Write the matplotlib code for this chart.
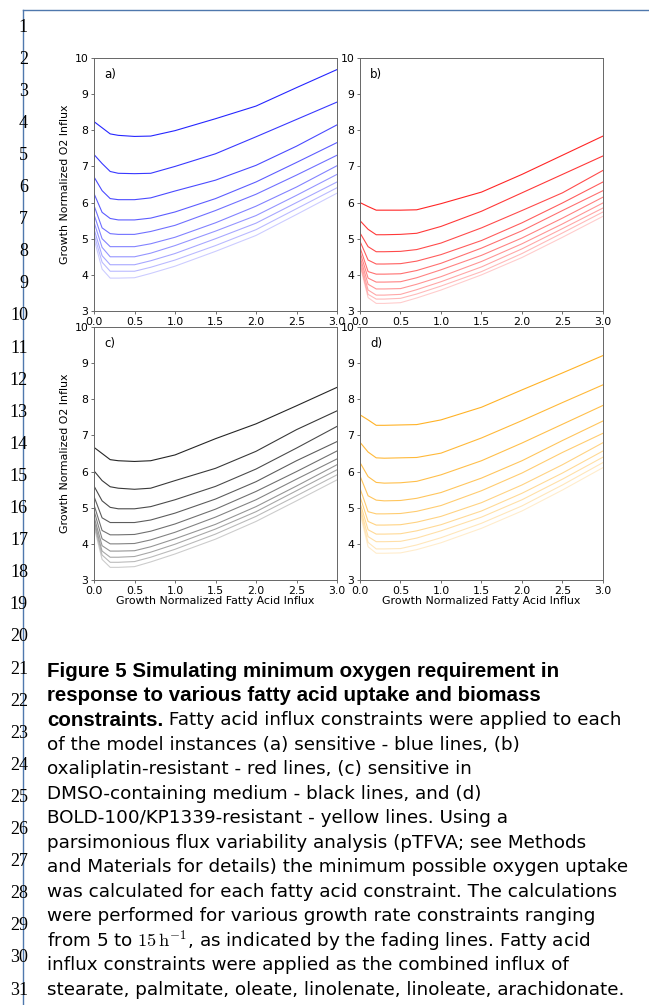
import numpy as np
import matplotlib
matplotlib.use("Agg")
import matplotlib.pyplot as plt
from matplotlib.lines import Line2D

x_influx = [0.0, 0.1, 0.2, 0.3, 0.5, 0.7, 1.0, 1.5, 2.0, 2.5, 3.0]

# growth normalized O2 influx, one row per growth rate constraint (top line first)
o2_sensitive = [
    [8.24, 8.07, 7.90, 7.86, 7.83, 7.84, 7.99, 8.32, 8.67, 9.18, 9.68],
    [7.33, 7.08, 6.86, 6.81, 6.80, 6.81, 7.00, 7.35, 7.82, 8.30, 8.78],
    [6.71, 6.33, 6.11, 6.08, 6.08, 6.13, 6.32, 6.62, 7.03, 7.56, 8.15],
    [6.25, 5.73, 5.56, 5.52, 5.52, 5.57, 5.74, 6.11, 6.57, 7.11, 7.66],
    [5.92, 5.30, 5.14, 5.12, 5.12, 5.20, 5.37, 5.78, 6.23, 6.76, 7.31],
    [5.67, 5.00, 4.78, 4.78, 4.78, 4.86, 5.04, 5.44, 5.90, 6.43, 7.02],
    [5.46, 4.76, 4.50, 4.50, 4.50, 4.60, 4.81, 5.21, 5.64, 6.20, 6.78],
    [5.27, 4.53, 4.28, 4.28, 4.28, 4.39, 4.59, 5.00, 5.43, 6.00, 6.57],
    [5.13, 4.35, 4.10, 4.10, 4.10, 4.21, 4.41, 4.81, 5.25, 5.83, 6.41],
    [5.00, 4.16, 3.91, 3.91, 3.92, 4.04, 4.24, 4.65, 5.09, 5.67, 6.26],
]
o2_oxali = [
    [6.00, 5.89, 5.79, 5.79, 5.79, 5.80, 5.97, 6.29, 6.78, 7.31, 7.84],
    [5.50, 5.26, 5.11, 5.11, 5.12, 5.15, 5.34, 5.76, 6.27, 6.78, 7.29],
    [5.16, 4.78, 4.64, 4.64, 4.65, 4.70, 4.88, 5.30, 5.78, 6.27, 6.89],
    [4.93, 4.41, 4.30, 4.30, 4.31, 4.38, 4.56, 4.95, 5.44, 5.99, 6.57],
    [4.76, 4.09, 4.02, 4.02, 4.03, 4.12, 4.32, 4.74, 5.22, 5.78, 6.33],
    [4.63, 3.91, 3.80, 3.80, 3.81, 3.92, 4.14, 4.54, 5.02, 5.57, 6.15],
    [4.51, 3.74, 3.61, 3.61, 3.62, 3.74, 3.95, 4.37, 4.86, 5.41, 5.99],
    [4.42, 3.58, 3.44, 3.44, 3.46, 3.59, 3.81, 4.22, 4.72, 5.28, 5.85],
    [4.32, 3.46, 3.33, 3.33, 3.35, 3.47, 3.69, 4.09, 4.59, 5.16, 5.74],
    [4.26, 3.37, 3.21, 3.21, 3.23, 3.36, 3.58, 4.00, 4.48, 5.04, 5.62],
]
o2_dmso = [
    [6.67, 6.50, 6.33, 6.30, 6.28, 6.30, 6.46, 6.91, 7.32, 7.82, 8.33],
    [6.02, 5.75, 5.58, 5.54, 5.51, 5.54, 5.75, 6.09, 6.56, 7.16, 7.68],
    [5.60, 5.19, 5.01, 4.97, 4.97, 5.03, 5.22, 5.59, 6.07, 6.65, 7.25],
    [5.31, 4.72, 4.59, 4.59, 4.59, 4.66, 4.85, 5.24, 5.72, 6.30, 6.83],
    [5.08, 4.37, 4.25, 4.25, 4.26, 4.35, 4.55, 4.96, 5.45, 6.00, 6.57],
    [4.92, 4.14, 4.00, 4.00, 4.01, 4.11, 4.32, 4.74, 5.22, 5.79, 6.35],
    [4.76, 3.95, 3.80, 3.80, 3.81, 3.92, 4.14, 4.54, 5.03, 5.60, 6.19],
    [4.66, 3.80, 3.63, 3.63, 3.65, 3.77, 3.99, 4.41, 4.89, 5.47, 6.05],
    [4.57, 3.69, 3.49, 3.49, 3.51, 3.63, 3.85, 4.27, 4.76, 5.33, 5.91],
    [4.48, 3.57, 3.35, 3.35, 3.37, 3.50, 3.72, 4.13, 4.62, 5.19, 5.77],
]
o2_bold = [
    [7.57, 7.43, 7.28, 7.28, 7.29, 7.30, 7.43, 7.78, 8.26, 8.73, 9.21],
    [6.81, 6.54, 6.38, 6.37, 6.38, 6.39, 6.51, 6.93, 7.41, 7.91, 8.40],
    [6.25, 5.86, 5.70, 5.68, 5.69, 5.73, 5.91, 6.30, 6.79, 7.31, 7.83],
    [5.88, 5.33, 5.21, 5.19, 5.20, 5.26, 5.42, 5.82, 6.30, 6.86, 7.40],
    [5.54, 4.89, 4.83, 4.83, 4.84, 4.90, 5.06, 5.47, 5.96, 6.53, 7.06],
    [5.31, 4.62, 4.52, 4.52, 4.53, 4.60, 4.76, 5.14, 5.63, 6.19, 6.80],
    [5.14, 4.39, 4.27, 4.27, 4.28, 4.36, 4.53, 4.91, 5.40, 5.96, 6.57],
    [5.03, 4.20, 4.06, 4.06, 4.07, 4.16, 4.36, 4.74, 5.22, 5.79, 6.40],
    [4.94, 4.04, 3.86, 3.86, 3.87, 3.97, 4.17, 4.57, 5.05, 5.63, 6.25],
    [4.85, 3.92, 3.74, 3.74, 3.75, 3.84, 4.03, 4.43, 4.91, 5.49, 6.11],
]

panel_tags = ["a)", "b)", "c)", "d)"]
panel_colors = ["blue", "red", "black", "orange"]
x_ticks = [0.0, 0.5, 1.0, 1.5, 2.0, 2.5, 3.0]
y_ticks = [3, 4, 5, 6, 7, 8, 9, 10]

caption = [
    [("Figure 5 Simulating minimum oxygen requirement in", "bold")],
    [("response to various fatty acid uptake and biomass", "bold")],
    [("constraints.", "bold"), (" Fatty acid influx constraints were applied to each", "normal")],
    [("of the model instances (a) sensitive - blue lines, (b)", "normal")],
    [("oxaliplatin-resistant - red lines, (c) sensitive in", "normal")],
    [("DMSO-containing medium - black lines, and (d)", "normal")],
    [("BOLD-100/KP1339-resistant - yellow lines. Using a", "normal")],
    [("parsimonious flux variability analysis (pTFVA; see Methods", "normal")],
    [("and Materials for details) the minimum possible oxygen uptake", "normal")],
    [("was calculated for each fatty acid constraint. The calculations", "normal")],
    [("were performed for various growth rate constraints ranging", "normal")],
    [(r"from 5 to $15\,\mathrm{h}^{-1}$, as indicated by the fading lines. Fatty acid", "normal")],
    [("influx constraints were applied as the combined influx of", "normal")],
    [("stearate, palmitate, oleate, linolenate, linoleate, arachidonate.", "normal")],
]

W, H = 649, 1005
plt.rcParams["mathtext.fontset"] = "cm"
fig = plt.figure(figsize=(W / 100, H / 100), dpi=100)


def fx(px):
    return px / W


def fy(py):
    return 1 - py / H


# page frame and line numbers
frame = "#4f78ad"
fig.add_artist(Line2D([fx(23), fx(23)], [0, fy(10)], color=frame, lw=1.0))
fig.add_artist(Line2D([fx(23), 1], [fy(10), fy(10)], color=frame, lw=1.0))
for n in range(1, 32):
    fig.text(fx(28), fy(27 + (n - 1) * 32.1), str(n), ha="right", va="center",
             family="Liberation Serif", fontsize=13)

# the four panels
boxes = [(94, 58), (360, 58), (94, 327), (360, 327)]
all_data = [o2_sensitive, o2_oxali, o2_dmso, o2_bold]
alphas = np.linspace(0.85, 0.2, 10)
for i, (left, top) in enumerate(boxes):
    ax = fig.add_axes([fx(left), fy(top + 253), fx(243), 253 / H])
    for k, row in enumerate(all_data[i]):
        ax.plot(x_influx, row, color=panel_colors[i], alpha=alphas[k], lw=0.8)
    ax.set_xlim(0, 3)
    ax.set_ylim(3, 10)
    ax.set_xticks(x_ticks)
    ax.set_yticks(y_ticks)
    ax.tick_params(labelsize=7.8, length=2.5, width=0.6, pad=1.5, color="#555")
    for s in ax.spines.values():
        s.set_color("#666")
        s.set_linewidth(0.7)
    ax.text(0.042, 0.933, panel_tags[i], transform=ax.transAxes, fontsize=8.5,
            va="center", ha="left")
    if i % 2 == 0:
        ax.set_ylabel("Growth Normalized O2 Influx", fontsize=7.9, labelpad=3)
    if i >= 2:
        ax.set_xlabel("Growth Normalized Fatty Acid Influx", fontsize=7.9, labelpad=0.5)

# caption, bold and normal pieces put side by side
renderer = fig.canvas.get_renderer()
for j, parts in enumerate(caption):
    x = fx(47)
    y = fy(671 + j * 24.5)
    for txt, weight in parts:
        if weight == "bold":
            t = fig.text(x, y, txt, ha="left", va="center", fontsize=14.8,
                         family="Liberation Sans", weight="bold")
        else:
            t = fig.text(x, y, txt, ha="left", va="center", fontsize=13.2,
                         family="DejaVu Sans")
        x = t.get_window_extent(renderer).x1 / W

fig.savefig("out.png", dpi=100)
